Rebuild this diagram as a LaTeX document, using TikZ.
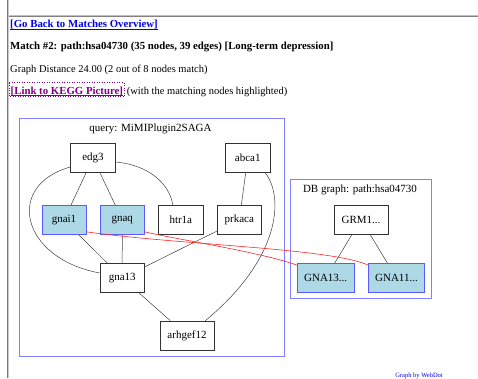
\documentclass[tikz,border=0pt]{standalone}
\usepackage{fontspec}
\setmainfont{Liberation Serif}
\usetikzlibrary{calc}
\definecolor{linkblue}{RGB}{0,0,238}
\definecolor{visited}{RGB}{128,0,128}
\definecolor{clusterblue}{RGB}{128,128,255}
\definecolor{nodeblue}{RGB}{90,90,255}
\definecolor{lblue}{RGB}{173,216,230}
\definecolor{rulegray}{RGB}{150,150,150}
\tikzset{
  qnode/.style={draw=black!80, line width=0.7pt, fill=white, minimum height=29pt, inner sep=0pt, font=\fontsize{11}{13}\selectfont},
  mnode/.style={qnode, draw=nodeblue, fill=lblue},
  cluster/.style={draw=clusterblue, line width=1pt},
  gedge/.style={draw=black!75, line width=0.5pt},
  redge/.style={draw=red!85, line width=0.6pt},
  ctitle/.style={font=\fontsize{11}{13}\selectfont, inner sep=0pt},
  htext/.style={anchor=base west, inner sep=0pt, font=\fontsize{10.5}{12}\selectfont},
  hbold/.style={htext, font=\fontsize{10.8}{12}\selectfont\bfseries},
}
\begin{document}
\begin{tikzpicture}[x=1pt,y=-1pt]
\useasboundingbox (0,0) rectangle (478,378);
% page rules
\draw[rulegray!80!black, line width=1pt] (7.2,0) -- (7.2,378);
\draw[rulegray!50, line width=0.8pt] (8.6,0) -- (8.6,378);
\draw[rulegray!60, line width=1pt] (9,15.3) -- (478,15.3);
\draw[rulegray!120, line width=0.8pt] (9,16.5) -- (478,16.5);

% header
\node[hbold, text=linkblue] (back) at (10,27.5) {[Go Back to Matches Overview]};
\draw[linkblue, line width=0.7pt] ($(back.base west)+(0,1.4)$) -- ($(back.base east)+(0,1.4)$);
\node[hbold] (match) at (10,49.5) {Match \#2: path:hsa04730 (35 nodes, 39 edges) [Long-term depression]};
\node[htext] (dist) at (10,72) {Graph Distance 24.00 (2 out of 8 nodes match)};
\node[hbold, text=visited] (kegg) at (10.5,94) {[Link to KEGG Picture]};
\draw[visited, line width=0.7pt] ($(kegg.base west)+(0,1.4)$) -- ($(kegg.base east)+(0,1.4)$);
\draw[visited, dotted, line width=0.5pt] ($(kegg.base west)+(-1.2,-11.3)$) rectangle ($(kegg.base east)+(1.2,2.7)$);
\node[htext] (with) at ($(kegg.base east)+(3.5,0)$) {(with the matching nodes highlighted)};

% query cluster
\draw[cluster] (19.5,118.5) rectangle (284,356.5);
\node[ctitle] (qtitle) at (150.5,128.5) {query: MiMIPlugin2SAGA};
\node[qnode, minimum width=44.5pt] (edg3) at (93,158) {edg3};
\node[qnode, minimum width=44.5pt] (abca1) at (247.7,158) {abca1};
\node[mnode, minimum width=44pt] (gnai1) at (64,220) {gnai1};
\node[mnode, minimum width=44pt] (gnaq) at (122.3,220) {gnaq};
\node[qnode, minimum width=45pt] (htr1a) at (180.8,220) {htr1a};
\node[qnode, minimum width=44pt] (prkaca) at (239.3,220) {prkaca};
\node[qnode, minimum width=44.3pt] (gna13) at (122.2,278) {gna13};
\node[qnode, minimum width=54pt] (arhgef12) at (187,335.5) {arhgef12};

\draw[gedge] (edg3) -- (gnai1);
\draw[gedge] (edg3) -- (gnaq);
\draw[gedge] ($(edg3.east)+(0,4)$) .. controls (150,165) and (170,185) .. ($(htr1a.north)+(-8,0)$);
\draw[gedge] ($(edg3.west)+(0,9)$) .. controls (5,185) and (20,258) .. ($(gna13.west)+(0,-5)$);
\draw[gedge] (gnai1) -- (gna13);
\draw[gedge] (gnaq) -- (gna13);
\draw[gedge] (prkaca) -- (gna13);
\draw[gedge] (abca1) -- (prkaca);
\draw[gedge] ($(abca1.south east)+(-5,0)$) .. controls (284,197) and (281,258) .. ($(arhgef12.north east)+(-9,0)$);
\draw[gedge] (gna13) -- (arhgef12);

% DB cluster
\draw[cluster] (290.7,179.3) rectangle (431,298.3);
\node[ctitle] (dbtitle) at (360,189.5) {DB graph: path:hsa04730};
\node[qnode, minimum width=53.7pt] (GRM1) at (361,219.5) {GRM1...};
\node[mnode, minimum width=56.7pt] (GNA13) at (325.7,278) {GNA13...};
\node[mnode, minimum width=55.6pt] (GNA11) at (396.5,278) {GNA11...};
\draw[gedge] (GRM1) -- (GNA13);
\draw[gedge] (GRM1) -- (GNA11);

% matching edges
\draw[redge] ($(gnai1.south east)+(0,-3)$) .. controls (180,245) and (330,248) .. ($(GNA11.north west)+(0,2)$);
\draw[redge] ($(gnaq.south east)+(0,-3)$) .. controls (180,240) and (260,252) .. ($(GNA13.north west)+(0,2)$);

% footer
\node[inner sep=0pt, text=linkblue, font=\fontsize{6.5}{7}\selectfont] (webdot) at (419,375.5) {Graph by WebDot};
\end{tikzpicture}
\end{document}
